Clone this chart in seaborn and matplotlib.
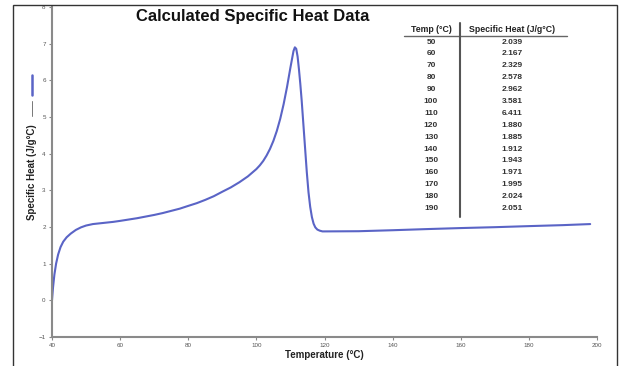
import matplotlib
matplotlib.use("Agg")
import matplotlib.pyplot as plt
import seaborn as sns
import pandas as pd
from matplotlib.lines import Line2D
from matplotlib.patches import Rectangle

# curve
temp = [40, 40.3, 40.7, 41.2, 41.8, 42.5, 43.3, 44.3, 45.5, 47, 48.5, 50, 52, 55, 58,
        60, 65, 70, 72.5, 75, 77.5, 80, 82.5, 85, 87.5, 90, 92.5, 95, 97.5,
        100, 101, 102, 103, 104, 105, 106, 107, 108, 109, 110, 110.5, 110.9, 111.3,
        111.7, 112.1, 112.5, 112.9, 113.3, 113.8, 114.3, 114.8, 115.3, 115.8, 116.3,
        116.8, 117.3, 117.9, 118.6, 119.4, 120, 130, 140, 150, 160, 170, 180, 190, 198]
cp = [0.0, 0.35, 0.7, 1.0, 1.25, 1.45, 1.6, 1.72, 1.82, 1.92, 1.99, 2.04, 2.08, 2.11, 2.14,
      2.167, 2.24, 2.329, 2.38, 2.44, 2.5, 2.576, 2.65, 2.74, 2.84, 2.962, 3.08, 3.22, 3.38,
      3.58, 3.68, 3.8, 3.95, 4.13, 4.35, 4.62, 4.95, 5.35, 5.82, 6.35, 6.6, 6.8, 6.9,
      6.86, 6.65, 6.3, 5.9, 5.45, 4.8, 4.15, 3.5, 2.95, 2.55, 2.27, 2.09, 1.99, 1.93,
      1.9, 1.88, 1.88, 1.885, 1.912, 1.943, 1.971, 1.995, 2.024, 2.051, 2.08]

# table in the upper right
table_temp = ["50", "60", "70", "80", "90", "100", "110", "120", "130", "140", "150",
              "160", "170", "180", "190"]
table_cp = ["2.039", "2.167", "2.329", "2.578", "2.962", "3.581", "6.411", "1.880",
            "1.885", "1.912", "1.943", "1.971", "1.995", "2.024", "2.051"]

x_ticks = [40, 60, 80, 100, 120, 140, 160, 180, 200]
y_ticks = list(range(-1, 9))

sns.set_style("white")
plt.rcParams["font.family"] = ["Liberation Sans", "DejaVu Sans"]

W, H = 622, 366
fig = plt.figure(figsize=(W / 100, H / 100), dpi=100)
ax = fig.add_axes([52 / W, 1 - 337 / H, 545 / W, 330 / H])

df = pd.DataFrame({"Temperature": temp, "Cp": cp})
sns.lineplot(data=df, x="Temperature", y="Cp", ax=ax, color="#5a64c6", linewidth=1.5, sort=False)

ax.set_xlim(40, 200)
ax.set_ylim(-1, 8)
ax.set_xticks(x_ticks)
ax.set_yticks(y_ticks)
ax.tick_params(axis="both", labelsize=4.5, labelcolor="#555555", color="#888888",
               length=2.5, width=0.8, direction="out", pad=2)
ax.tick_params(left=True, bottom=True)
for s in ["top", "right"]:
    ax.spines[s].set_visible(False)
for s in ["left", "bottom"]:
    ax.spines[s].set_color("#8a8a8a")
    ax.spines[s].set_linewidth(1.5)

ax.set_xlabel("Temperature (°C)", fontsize=7, fontweight="bold", color="#222222")
ax.xaxis.set_label_coords(0.5, -0.038)
ax.set_ylabel("Specific Heat (J/g°C)", fontsize=7, fontweight="bold", color="#222222")
ax.yaxis.set_label_coords(-0.028, 0.5)

# legend key stuck beside the y label
fig.add_artist(Line2D([32 / W, 32 / W], [1 - 75 / H, 1 - 95 / H], color="#5a64c6", lw=1.8))
fig.add_artist(Line2D([32 / W, 32 / W], [1 - 101 / H, 1 - 116 / H], color="#777777", lw=0.7))

fig.text(253 / W, 1 - 16 / H, "Calculated Specific Heat Data", fontsize=12,
         fontweight="bold", ha="center", va="center", color="#111111")

# table
fig.text(431 / W, 1 - 30 / H, "Temp (°C)", fontsize=6.3, fontweight="bold",
         ha="center", va="center", color="#222222")
fig.text(512 / W, 1 - 30 / H, "Specific Heat (J/g°C)", fontsize=6.3, fontweight="bold",
         ha="center", va="center", color="#222222")
fig.add_artist(Line2D([404 / W, 567 / W], [1 - 35.5 / H, 1 - 35.5 / H], color="#666666", lw=1))
fig.add_artist(Line2D([460 / W, 460 / W], [1 - 23 / H, 1 - 217 / H], color="#555555", lw=1.5))
for i, (t, c) in enumerate(zip(table_temp, table_cp)):
    y = 1 - (42 + i * 11.9) / H
    fig.text(431 / W, y, t, fontsize=6, fontweight="bold", ha="center", va="center", color="#333333")
    fig.text(512 / W, y, c, fontsize=6, fontweight="bold", ha="center", va="center", color="#333333")

# outer frame
fig.add_artist(Rectangle((13 / W, -0.05), 604 / W, (1 - 5 / H) + 0.05, fill=False,
                         edgecolor="#333333", lw=1, transform=fig.transFigure))

fig.savefig("out.png", dpi=100)
